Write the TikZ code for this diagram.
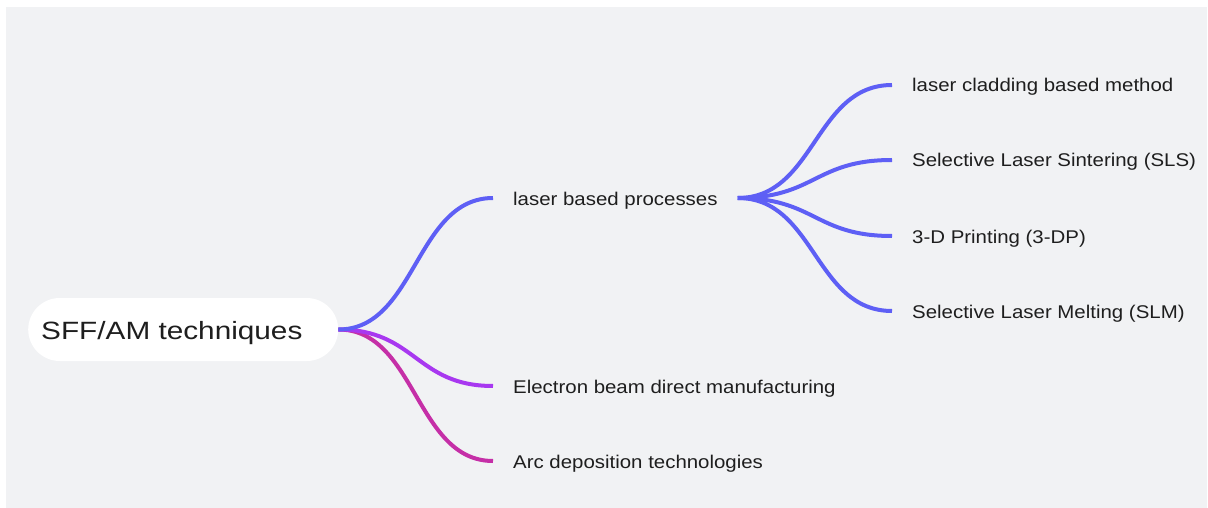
\documentclass[tikz,border=0pt]{standalone}
\usepackage{fontspec}
\usetikzlibrary{calc}
\newfontfamily\rootfont[FakeStretch=1.19]{Liberation Sans}
\newfontfamily\leaffont[FakeStretch=1.11]{Liberation Sans}
\definecolor{canvas}{HTML}{F1F2F4}
\definecolor{inkdark}{HTML}{1E1E1E}
\definecolor{laserblue}{HTML}{5E5FF5}
\definecolor{beampurple}{HTML}{A838F0}
\definecolor{arcmagenta}{HTML}{C52FA7}
\tikzset{
  rootpill/.style={fill=white, rounded corners=31.5pt, anchor=west,
    inner xsep=13pt, inner ysep=0pt, minimum height=63pt,
    text height=19pt, text depth=0pt, text=inkdark,
    font=\rootfont\fontsize{25pt}{30pt}\selectfont},
  topic/.style={anchor=west, inner xsep=20pt, inner ysep=0pt,
    text height=14pt, text depth=0pt, text=inkdark,
    font=\leaffont\fontsize{18.4pt}{22pt}\selectfont},
  branch/.style={line width=4pt}
}
\newcommand\linkbranch[3]{%
  \draw[branch,#1] (#2.east) .. controls ($(#2.east)+(77.5,0)$) and ($(#3.west)+(-77.5,0)$) .. (#3.west);}
\begin{document}
\begin{tikzpicture}[x=1pt,y=-1pt]
  \useasboundingbox (0,0) rectangle (1208,508);
  \fill[white] (0,0) rectangle (1208,508);
  \fill[canvas] (6,7) rectangle (1207,508);

  % root and first level
  \node[rootpill] (root) at (28,329.5) {\makebox[284pt][l]{SFF/AM techniques}};
  \node[topic] (laser) at (493,198) {laser based processes};
  \node[topic] (ebeam) at (493,386) {Electron beam direct manufacturing};
  \node[topic] (arc) at (493,461) {Arc deposition technologies};

  % second level under laser based processes
  \node[topic] (clad) at (892,85) {laser cladding based method};
  \node[topic] (sls) at (892,160) {Selective Laser Sintering (SLS)};
  \node[topic] (tdp) at (892,236) {3-D Printing (3-DP)};
  \node[topic] (slm) at (892,311) {Selective Laser Melting (SLM)};

  \linkbranch{arcmagenta}{root}{arc}
  \linkbranch{beampurple}{root}{ebeam}
  \linkbranch{laserblue}{root}{laser}
  \linkbranch{laserblue}{laser}{clad}
  \linkbranch{laserblue}{laser}{sls}
  \linkbranch{laserblue}{laser}{tdp}
  \linkbranch{laserblue}{laser}{slm}
\end{tikzpicture}
\end{document}
